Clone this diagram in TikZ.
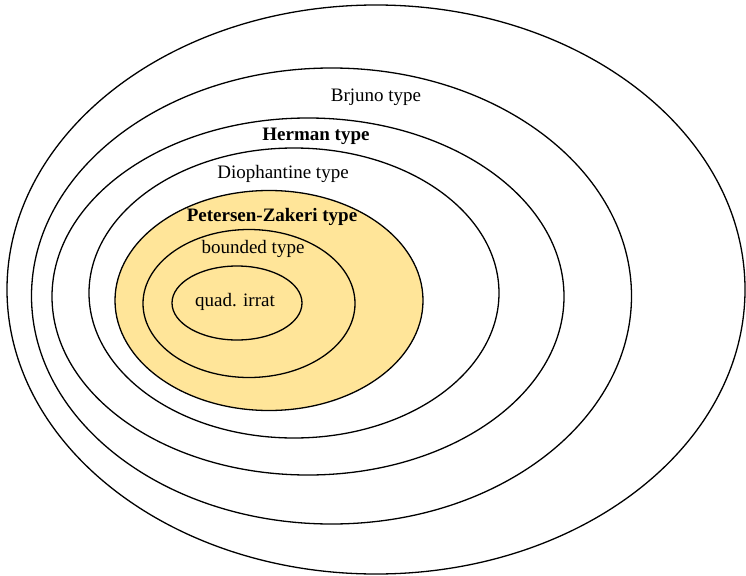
\documentclass[tikz,border=0pt]{standalone}
\usepackage{fontspec}
\setmainfont{Liberation Serif}
\definecolor{pzyellow}{HTML}{FFE599}
\begin{document}
\begin{tikzpicture}[x=1pt,y=-1pt,line width=1.3pt,
  every node/.style={font=\fontsize{19}{22}\selectfont,inner sep=0pt}]
\useasboundingbox (0,0) rectangle (746,575);
%
\draw (376,289.5) ellipse [x radius=369,y radius=284.5];
\draw (331.5,296) ellipse [x radius=300,y radius=228];
\draw (308,296.5) ellipse [x radius=256,y radius=178.5];
\draw (294,293) ellipse [x radius=205,y radius=145];
\draw[fill=pzyellow] (269,300.5) ellipse [x radius=154,y radius=110];
\draw (249,303.5) ellipse [x radius=106,y radius=74];
\draw (237,303) ellipse [x radius=65,y radius=37];
%
\node (brjuno) at (376,97) {Brjuno type};
\node[font=\fontsize{19}{22}\selectfont\bfseries] (herman) at (316,136) {Herman type};
\node (dioph) at (283,174) {Diophantine type};
\node[font=\fontsize{19}{22}\selectfont\bfseries] (pz) at (272,217) {Petersen-Zakeri type};
\node (bounded) at (253,249) {bounded type};
\node (quad) at (235,302) {quad. irrat};
%
\end{tikzpicture}
\end{document}
